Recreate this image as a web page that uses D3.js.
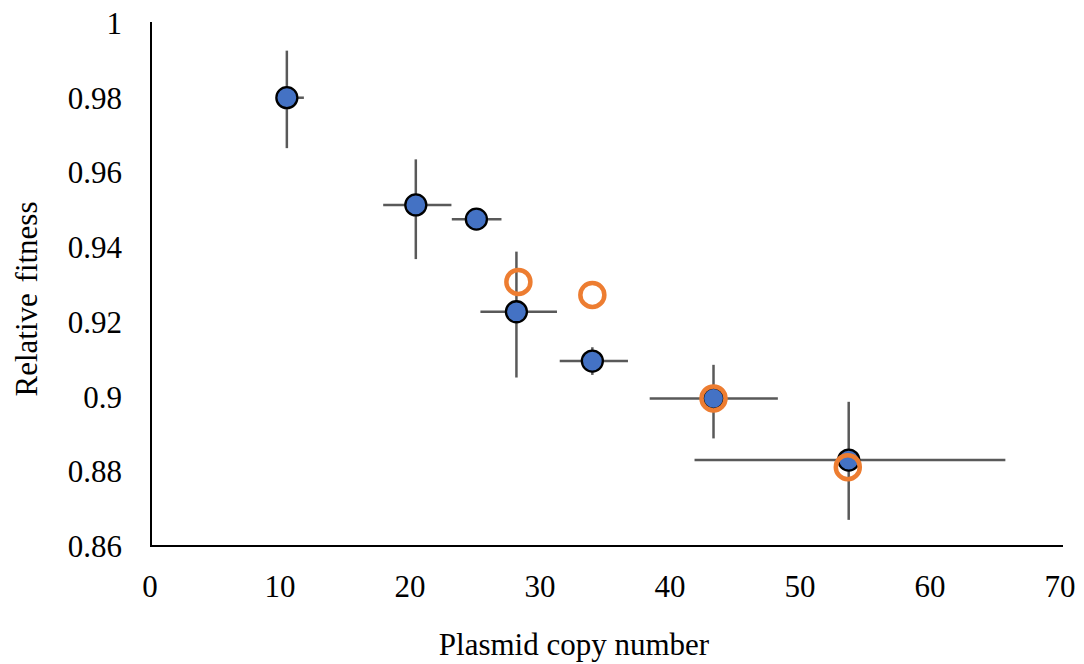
<!DOCTYPE html>
<html>
<head>
<meta charset="utf-8">
<script src="https://cdn.jsdelivr.net/npm/d3@7"></script>
<style>
  html, body { margin: 0; padding: 0; background: #fff; }
  svg { display: block; }
  text { font-family: "Liberation Serif", "Times New Roman", serif; fill: #000; }
</style>
</head>
<body>
<svg id="chart" width="1084" height="664"></svg>
<script>
// Blue series: measured points with error bars
const copyNumber   = [10.45, 20.37, 25.03, 28.11, 33.95, 43.27, 53.67];
const fitness      = [0.980, 0.9513, 0.9475, 0.9227, 0.9095, 0.8995, 0.8830];
const copyLow      = [9.9, 17.86, 23.14, 25.34, 31.44, 38.36, 41.81];
const copyHigh     = [11.76, 23.11, 26.96, 31.23, 36.69, 48.22, 65.72];
const fitnessLow   = [0.9665, 0.9368, 0.9460, 0.9051, 0.9058, 0.8888, 0.8670];
const fitnessHigh  = [0.9926, 0.9635, 0.9490, 0.9388, 0.9132, 0.9085, 0.8986];

// Orange series: open circles (no error bars)
const copyNumber2  = [28.26, 33.95, 43.27, 53.6];
const fitness2     = [0.9307, 0.9272, 0.8995, 0.8811];

const xTicks = [0, 10, 20, 30, 40, 50, 60, 70];
const yTicks = [0.86, 0.88, 0.9, 0.92, 0.94, 0.96, 0.98, 1];
const yTickLabels = ["0.86", "0.88", "0.9", "0.92", "0.94", "0.96", "0.98", "1"];

const svg = d3.select("#chart");
const x = d3.scaleLinear().domain([0, 70]).range([151, 1061]);
const y = d3.scaleLinear().domain([0.86, 1]).range([546, 23]);

const errColor = "#595959";
const fs = 31;

// Error bars
const eb = svg.append("g");
copyNumber.forEach((cx, i) => {
  eb.append("line")
    .attr("x1", x(cx)).attr("x2", x(cx))
    .attr("y1", y(fitnessLow[i])).attr("y2", y(fitnessHigh[i]))
    .attr("stroke", errColor).attr("stroke-width", 2.5);
  eb.append("line")
    .attr("x1", x(copyLow[i])).attr("x2", x(copyHigh[i]))
    .attr("y1", y(fitness[i])).attr("y2", y(fitness[i]))
    .attr("stroke", errColor).attr("stroke-width", 2.5);
});

// Axes
const axisG = svg.append("g");
axisG.append("line").attr("x1", x(0)).attr("x2", x(0)).attr("y1", y(1) - 1).attr("y2", y(0.86) + 1)
  .attr("stroke", "#000").attr("stroke-width", 2);
axisG.append("line").attr("x1", x(0) - 1).attr("x2", x(70) + 2).attr("y1", y(0.86)).attr("y2", y(0.86))
  .attr("stroke", "#000").attr("stroke-width", 2);

// Tick labels
svg.append("g").selectAll("text").data(xTicks).join("text")
  .attr("x", d => x(d) - 1).attr("y", 597)
  .attr("text-anchor", "middle").attr("font-size", fs)
  .text(d => d);
svg.append("g").selectAll("text").data(yTicks).join("text")
  .attr("x", 122).attr("y", d => y(d) + 11)
  .attr("text-anchor", "end").attr("font-size", fs)
  .text((d, i) => yTickLabels[i]);

// Blue markers
svg.append("g").selectAll("circle").data(copyNumber).join("circle")
  .attr("cx", d => x(d)).attr("cy", (d, i) => y(fitness[i]))
  .attr("r", 10.5)
  .attr("fill", "#4472C4").attr("stroke", "#000").attr("stroke-width", 2.3);

// Orange markers
svg.append("g").selectAll("circle").data(copyNumber2).join("circle")
  .attr("cx", d => x(d)).attr("cy", (d, i) => y(fitness2[i]))
  .attr("r", 12)
  .attr("fill", "none").attr("stroke", "#ED7D31").attr("stroke-width", 4.5);

// Axis titles
svg.append("text").attr("x", 574).attr("y", 655)
  .attr("text-anchor", "middle").attr("font-size", fs)
  .text("Plasmid copy number");
svg.append("text").attr("transform", "translate(37,299) rotate(-90)")
  .attr("text-anchor", "middle").attr("font-size", fs).attr("word-spacing", 3)
  .text("Relative fitness");
</script>
</body>
</html>
